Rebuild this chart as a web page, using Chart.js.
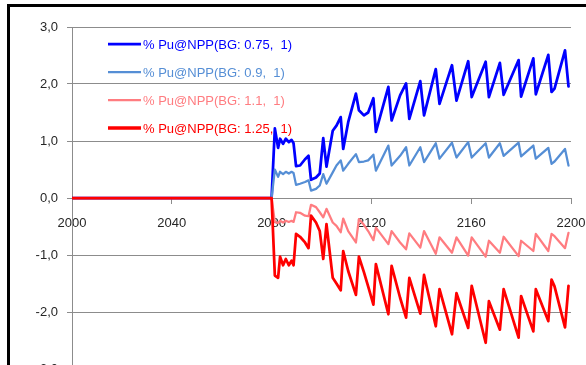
<!DOCTYPE html>
<html>
<head>
<meta charset="utf-8">
<script src="https://cdn.jsdelivr.net/npm/chart.js@4.4.1/dist/chart.umd.min.js"></script>
<style>
html, body { margin: 0; padding: 0; width: 586px; height: 365px; overflow: hidden; background: #fff; }
#frame { position: absolute; left: 7px; top: 4px; width: 620px; height: 420px; border: 3px solid #000; }
#wrap { position: absolute; left: 0; top: 0; width: 600px; height: 400px; }
</style>
</head>
<body>
<div id="frame"></div>
<div id="wrap"><canvas id="myChart" width="600" height="400"></canvas></div>
<script>
// years of the polyline vertices
const years = [2000, 2080, 2081.3, 2082.6, 2083.4, 2084.6, 2085.7, 2086.9, 2088, 2088.8,
  2089.8, 2091.4, 2093.4, 2094.8, 2095.8, 2097.8, 2099.3, 2100.7, 2102, 2104.5,
  2106, 2107.7, 2108.7, 2110.7, 2113.8, 2115, 2117, 2118.7, 2120.8, 2121.8,
  2126.8, 2128.1, 2131.5, 2133.9, 2135.2, 2139.6, 2141.1, 2145.8, 2147.3, 2152.3,
  2154.1, 2158.8, 2160.2, 2165.8, 2167.1, 2171.5, 2173, 2179, 2180, 2184.9,
  2185.9, 2190.9, 2192.2, 2193.4, 2197.6, 2199];

const bg075 = [0, 0, 1.22, 0.88, 1.04, 0.95, 1.04, 0.98, 1.02, 0.96,
  0.56, 0.57, 0.68, 0.74, 0.32, 0.36, 0.43, 1.05, 0.55, 1.18,
  1.27, 1.42, 0.86, 1.33, 1.83, 1.54, 1.45, 1.50, 1.75, 1.16,
  1.95, 1.36, 1.80, 2.01, 1.39, 2.05, 1.45, 2.26, 1.65, 2.33,
  1.71, 2.40, 1.77, 2.39, 1.77, 2.37, 1.81, 2.42, 1.78, 2.45,
  1.82, 2.51, 1.86, 1.92, 2.59, 1.96];

const bg09 = [0, 0, 0.50, 0.37, 0.46, 0.42, 0.46, 0.43, 0.46, 0.44,
  0.23, 0.25, 0.28, 0.31, 0.13, 0.16, 0.22, 0.42, 0.25, 0.45,
  0.57, 0.66, 0.48, 0.60, 0.77, 0.63, 0.64, 0.66, 0.76, 0.48,
  0.92, 0.57, 0.74, 0.89, 0.57, 0.89, 0.63, 0.96, 0.69, 0.97,
  0.71, 0.98, 0.71, 0.96, 0.71, 0.96, 0.74, 0.97, 0.73, 0.92,
  0.69, 0.88, 0.60, 0.64, 0.86, 0.57];

const bg11 = [0, 0, -0.42, -0.44, -0.40, -0.43, -0.40, -0.42, -0.40, -0.42,
  -0.25, -0.26, -0.31, -0.32, -0.12, -0.16, -0.25, -0.34, -0.19, -0.43,
  -0.49, -0.60, -0.36, -0.58, -0.78, -0.37, -0.47, -0.58, -0.74, -0.52,
  -0.81, -0.58, -0.78, -0.90, -0.62, -0.87, -0.58, -0.98, -0.69, -0.96,
  -0.69, -1.01, -0.69, -1.03, -0.75, -0.96, -0.68, -1.02, -0.75, -0.93,
  -0.63, -0.93, -0.63, -0.67, -0.88, -0.61];

const bg125 = [0, 0, -1.36, -1.40, -1.03, -1.18, -1.07, -1.18, -1.10, -1.18,
  -0.63, -0.68, -0.78, -0.88, -0.31, -0.43, -0.58, -1.07, -0.46, -1.40,
  -1.50, -1.62, -0.93, -1.28, -1.70, -1.03, -1.30, -1.55, -1.87, -1.16,
  -2.04, -1.19, -1.75, -2.10, -1.40, -2.03, -1.35, -2.25, -1.60, -2.39,
  -1.67, -2.28, -1.54, -2.54, -1.81, -2.31, -1.60, -2.45, -1.72, -2.34,
  -1.60, -2.16, -1.43, -1.55, -2.27, -1.54];

const seriesNames = ['% Pu@NPP(BG: 0.75,  1)', '% Pu@NPP(BG: 0.9,  1)', '% Pu@NPP(BG: 1.1,  1)', '% Pu@NPP(BG: 1.25,  1)'];
const seriesColors = ['#0000FF', '#558ED5', '#FF7C80', '#FF0000'];
const seriesWidths = [2.75, 2.25, 2.25, 2.75];
const xTicks = [2000, 2040, 2080, 2120, 2160, 2200];

const FONT = 'Liberation Sans';
const gridColor = '#8c8c8c';

function toPoints(vals) {
  return years.map((x, i) => ({ x: x, y: vals[i] }));
}

const allSeries = [bg075, bg09, bg11, bg125];

const data = {
  datasets: allSeries.map((vals, i) => ({
    label: seriesNames[i],
    data: toPoints(vals),
    borderColor: seriesColors[i],
    backgroundColor: seriesColors[i],
    borderWidth: seriesWidths[i],
    pointRadius: 0,
    tension: 0,
    borderJoinStyle: 'round',
    borderCapStyle: 'round',
    order: 4 - i
  }))
};

// legend drawn inside the plot, top left
const insideLegend = {
  id: 'insideLegend',
  afterDatasetsDraw(chart) {
    const { ctx, chartArea } = chart;
    ctx.save();
    ctx.font = '13px "' + FONT + '"';
    ctx.textBaseline = 'middle';
    ctx.textAlign = 'left';
    seriesNames.forEach((name, i) => {
      const x = chartArea.left + 36;
      const y = chartArea.top + 17 + i * 28;
      ctx.strokeStyle = seriesColors[i];
      ctx.lineWidth = i === 3 ? 3.5 : seriesWidths[i];
      ctx.beginPath();
      ctx.moveTo(x, y);
      ctx.lineTo(x + 33, y);
      ctx.stroke();
      ctx.fillStyle = seriesColors[i];
      ctx.fillText(name, x + 35, y + 1);
    });
    ctx.restore();
  }
};

new Chart(document.getElementById('myChart'), {
  type: 'line',
  data: data,
  plugins: [insideLegend],
  options: {
    responsive: false,
    animation: false,
    devicePixelRatio: 1,
    layout: { padding: { left: 0, top: 27, right: 29, bottom: 31 } },
    plugins: { legend: { display: false }, tooltip: { enabled: false } },
    scales: {
      x: {
        type: 'linear',
        min: 2000,
        max: 2200,
        position: { y: 0 },
        afterBuildTicks: s => { s.ticks = xTicks.map(v => ({ value: v })); },
        ticks: {
          color: '#262626',
          font: { family: FONT, size: 13 },
          padding: 13,
          maxRotation: 0,
          autoSkip: false,
          callback: v => String(v)
        },
        grid: { drawOnChartArea: false, drawTicks: true, tickLength: 5, color: gridColor },
        border: { color: gridColor, width: 1 }
      },
      y: {
        min: -3,
        max: 3,
        afterFit: s => { s.width = 72; },
        ticks: {
          stepSize: 1,
          color: '#262626',
          font: { family: FONT, size: 13 },
          padding: 9,
          callback: v => v.toFixed(1).replace('.', ',')
        },
        grid: { color: gridColor, tickLength: 5 },
        border: { color: gridColor, width: 1 }
      }
    }
  }
});
</script>
</body>
</html>
